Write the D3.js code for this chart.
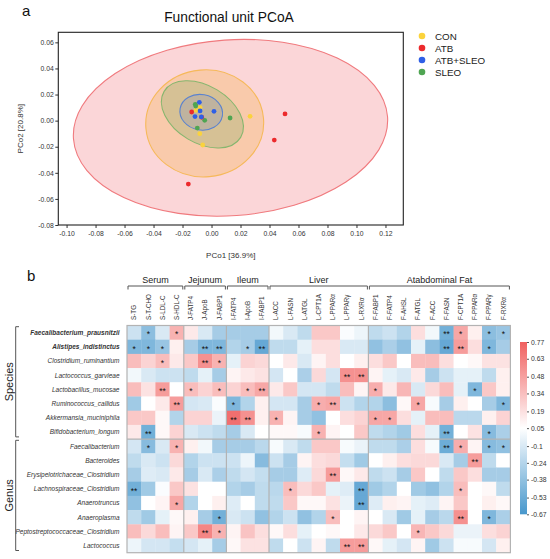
<!DOCTYPE html>
<html>
<head>
<meta charset="utf-8">
<script src="https://cdn.jsdelivr.net/npm/d3@7"></script>
<style>
body{margin:0;background:#fff;}
svg{display:block;font-family:"Liberation Sans",Arial,sans-serif;}
</style>
</head>
<body>
<svg id="chart" width="550" height="559"></svg>
<script>
// ---------- panel a: PCoA ----------
const groups = ["CON", "ATB", "ATB+SLEO", "SLEO"];
const conPC1 = [-0.0079, -0.0107, -0.0081, -0.0061, 0.0266];
const conPC2 = [0.0100, 0.0079, -0.0100, -0.0187, 0.0033];
const atbPC1 = [-0.0137, -0.0160, 0.0507, 0.0433, -0.0068];
const atbPC2 = [0.0066, -0.0486, 0.0051, -0.0149, 0.0026];
const atbSleoPC1 = [-0.0084, -0.0079, -0.0114, -0.0070, 0.0017];
const atbSleoPC2 = [0.0140, 0.0074, 0.0031, 0.0028, 0.0071];
const sleoPC1 = [-0.0112, -0.0109, -0.0047, -0.0098, 0.0128];
const sleoPC2 = [0.0125, 0.0112, 0.0002, -0.0057, 0.0020];
// confidence ellipses (group order as above)
const ellCx = [-0.0047, 0.0131, -0.0071, -0.0063];
const ellCy = [-0.0021, -0.0055, 0.0064, 0.0048];
const ellRx = [0.0407, 0.1086, 0.0148, 0.0308];
const ellRy = [0.0410, 0.0674, 0.0136, 0.0219];
const ellAngle = [-5, -4, 10, 31];
const pcoaTicksX = [-0.10, -0.08, -0.06, -0.04, -0.02, 0, 0.02, 0.04, 0.06, 0.08, 0.10, 0.12];
const pcoaTicksY = [-0.08, -0.06, -0.04, -0.02, 0, 0.02, 0.04, 0.06];

// ---------- panel b: correlation heatmap ----------
const columns = ["S-TG","S-T-CHO","S-LDL-C","S-HDL-C","J-FATP4","J-ApoB","J-FABP1",
  "I-FATP4","I-ApoB","I-FABP1","L-ACC","L-FASN","L-ATGL","L-CPT1A","L-PPARα","L-PPARγ","L-RXRα",
  "F-FABP1","F-FATP4","F-AHSL","F-ATGL","F-ACC","F-FASN","F-CPT1A","F-PPARα","F-PPARγ","F-RXRα"];
const colGroups = ["Serum", "Jejunum", "Ileum", "Liver", "Atabdominal Fat"];
const colGroupSizes = [4, 3, 3, 7, 10];
const rowNames = ["Faecalibacterium_prausnitzii","Alistipes_indistinctus","Clostridium_ruminantium",
  "Lactococcus_garvieae","Lactobacillus_mucosae","Ruminococcus_callidus","Akkermansia_muciniphila",
  "Bifidobacterium_longum","Faecalibacterium","Bacteroides","Erysipelotrichaceae_Clostridium",
  "Lachnospiraceae_Clostridium","Anaerotruncus","Anaeroplasma","Peptostreptococcaceae_Clostridium","Lactococcus"];
const boldRows = ["Faecalibacterium_prausnitzii", "Alistipes_indistinctus"];
const rowGroups = ["Species", "Genus"];
const rowGroupSizes = [8, 8];
const values = [
  [-0.15,-0.40,-0.10,0.40, 0.15,-0.10,-0.30, -0.30,-0.30,-0.30, 0.00,-0.10,-0.20,0.30,0.30,0.03,-0.02, -0.20,-0.15,-0.25,0.20,0.00,-0.50,0.45,0.12,-0.40,-0.35],
  [-0.45,-0.45,-0.35,0.12, -0.30,-0.45,-0.45, -0.25,-0.30,-0.55, -0.20,-0.20,-0.05,0.20,0.20,-0.10,-0.10, -0.38,-0.28,-0.38,-0.05,-0.40,-0.55,0.50,0.20,-0.45,-0.30],
  [0.35,0.25,0.35,0.15, 0.30,0.55,0.40, -0.05,0.25,0.22, 0.05,0.15,-0.10,0.10,0.20,0.05,0.12, 0.20,0.30,0.05,0.35,0.35,0.20,0.05,0.08,0.18,0.18],
  [0.00,-0.10,-0.15,-0.15, -0.20,-0.05,-0.30, 0.10,0.15,0.18, -0.12,0.05,-0.28,0.22,-0.12,0.55,0.55, 0.10,-0.05,-0.10,0.15,-0.30,-0.15,-0.05,-0.05,-0.20,0.12],
  [0.35,0.18,0.50,0.05, 0.35,0.25,0.35, 0.25,0.35,0.45, 0.15,0.30,-0.12,-0.12,-0.20,0.35,0.10, 0.42,0.15,0.38,-0.10,0.22,0.35,-0.05,-0.45,0.30,0.12],
  [-0.32,0.05,0.15,0.50, -0.12,-0.10,0.03, -0.45,-0.25,0.12, -0.12,-0.12,-0.30,0.42,0.45,-0.15,-0.25, -0.25,-0.40,0.08,0.45,0.02,-0.30,0.12,0.05,-0.30,-0.45],
  [0.30,0.30,0.08,-0.25, 0.25,0.25,-0.03, 0.70,0.55,0.12, 0.40,0.10,-0.30,-0.38,0.05,0.20,0.25, 0.45,0.45,0.20,-0.05,0.35,0.35,-0.22,-0.22,0.12,0.25],
  [0.15,-0.50,0.08,0.25, -0.10,-0.15,-0.20, -0.30,-0.10,0.05, 0.08,0.08,0.02,0.40,0.10,0.05,0.30, -0.20,-0.25,-0.32,0.20,-0.05,-0.50,0.05,0.18,-0.42,-0.28],
  [-0.12,-0.42,-0.10,0.40, 0.12,0.00,-0.30, -0.30,-0.30,-0.22, 0.02,-0.10,-0.20,0.30,0.30,0.02,-0.03, -0.20,-0.20,-0.28,0.20,0.02,-0.52,0.42,0.10,-0.42,-0.38],
  [-0.20,-0.10,-0.15,0.22, -0.25,-0.15,-0.15, -0.15,-0.02,-0.42, -0.15,-0.30,0.10,0.20,0.22,-0.18,-0.32, 0.05,0.12,0.20,0.22,0.22,-0.10,-0.30,0.50,-0.20,0.05],
  [-0.30,-0.08,-0.10,0.15, -0.30,-0.10,-0.28, -0.20,-0.12,-0.18, -0.30,-0.30,-0.08,0.22,0.50,0.08,0.15, -0.20,-0.15,-0.30,0.30,0.05,-0.20,0.30,0.20,-0.30,-0.30],
  [-0.50,-0.32,0.03,0.30, 0.18,0.05,0.05, -0.25,-0.30,-0.20, -0.22,0.35,0.22,0.30,-0.05,-0.08,-0.55, -0.32,-0.25,0.05,-0.32,-0.38,-0.25,0.35,0.05,0.08,-0.20],
  [-0.38,0.05,0.10,0.45, -0.25,0.05,0.12, -0.08,0.05,-0.20, -0.20,0.30,0.08,0.08,0.18,-0.03,-0.55, -0.08,0.12,0.10,-0.05,-0.08,0.10,0.30,0.05,0.12,0.08],
  [-0.20,-0.32,-0.05,0.08, 0.12,-0.30,-0.50, -0.10,-0.15,-0.38, -0.25,-0.15,-0.38,-0.25,0.35,0.05,0.10, 0.05,-0.10,-0.32,-0.05,-0.30,-0.22,0.55,0.05,-0.45,-0.28],
  [0.35,0.22,0.35,0.10, 0.30,0.60,0.40, 0.10,0.32,0.20, 0.08,0.20,-0.05,0.05,0.08,0.05,0.15, 0.22,0.30,0.05,0.38,0.30,0.22,-0.03,-0.03,0.20,0.25],
  [-0.02,-0.12,-0.12,-0.18, -0.12,-0.05,-0.30, 0.08,0.18,0.18, -0.20,0.05,-0.15,0.10,-0.20,0.50,0.50, 0.08,-0.05,-0.12,0.10,-0.32,-0.15,0.02,0.02,-0.12,0.12]
];
// significance: 0 none, 1 "*", 2 "**" (grouped by tissue)
const marks = [
  "0101 000 000 0000000 0000021011",
  "1110 022 012 0000000 0000022010",
  "0010 021 000 0000000 0000000000",
  "0000 000 000 0000022 0000000000",
  "0020 101 012 0000000 1000000100",
  "0002 000 100 0001200 0001000001",
  "0000 000 220 1000000 1100000000",
  "0200 000 000 0001000 0000020010",
  "0101 000 000 0000000 0000021011",
  "0000 000 000 0000000 0000000200",
  "0000 000 000 0000200 0000000000",
  "2000 000 000 0100002 0000001000",
  "0001 000 000 0000002 0000000000",
  "0000 001 000 0000100 0000002010",
  "0000 021 000 0000000 0001000000",
  "0000 000 000 0000022 0000000000"
];
const colorTicks = [0.77, 0.63, 0.48, 0.34, 0.19, 0.05, -0.1, -0.24, -0.38, -0.53, -0.67];

const svg = d3.select("#chart");

// ================= PCoA =================
const ptX = [conPC1, atbPC1, atbSleoPC1, sleoPC1];
const ptY = [conPC2, atbPC2, atbSleoPC2, sleoPC2];
const dotColor = ["#fbd33c", "#ec2a2c", "#2f5fe6", "#4fa552"];
const ellStroke = ["#f6b95a", "#f07a7e", "#5a82cf", "#86b66e"];
const ellFill = ["#f5a623", "#f26b73", "#6d84c4", "#5aa34a"];
const ellOpacity = [0.25, 0.28, 0.22, 0.22];

const px = d3.scaleLinear().domain([-0.1057, 0.1323]).range([58.3, 403.3]);
const py = d3.scaleLinear().domain([-0.08, 0.0677]).range([225, 32.3]);

const gA = svg.append("g");

gA.append("text").attr("x", 22).attr("y", 15.5)
  .attr("font-size", 15).attr("fill", "#111").text("a");
gA.append("text").attr("x", 229).attr("y", 21.5).attr("text-anchor", "middle")
  .attr("font-size", 13.8).attr("fill", "#111").text("Functional unit PCoA");

[1, 0, 3, 2].forEach(i => {
  const cx = px(ellCx[i]), cy = py(ellCy[i]);
  gA.append("ellipse")
    .attr("cx", cx).attr("cy", cy)
    .attr("rx", px(ellCx[i] + ellRx[i]) - cx)
    .attr("ry", cy - py(ellCy[i] + ellRy[i]))
    .attr("transform", `rotate(${ellAngle[i]},${cx},${cy})`)
    .attr("fill", ellFill[i]).attr("fill-opacity", ellOpacity[i])
    .attr("stroke", ellStroke[i]).attr("stroke-width", 1.1);
});

[0, 3, 1, 2].forEach(i => {
  gA.append("g").selectAll("circle")
    .data(ptX[i].map((v, k) => [v, ptY[i][k]]))
    .enter().append("circle")
      .attr("cx", d => px(d[0]))
      .attr("cy", d => py(d[1]))
      .attr("r", 2.4)
      .attr("fill", dotColor[i]);
});

const fmt2 = d => d.toFixed(2);
const xAxis = gA.append("g").attr("transform", "translate(0,225)")
  .call(d3.axisBottom(px).tickValues(pcoaTicksX).tickFormat(fmt2).tickSize(3).tickPadding(3.5));
const yAxis = gA.append("g").attr("transform", "translate(58.3,0)")
  .call(d3.axisLeft(py).tickValues(pcoaTicksY).tickFormat(fmt2).tickSize(3).tickPadding(1.5));
[xAxis, yAxis].forEach(a => {
  a.select(".domain").remove();
  a.selectAll("text").attr("font-size", 6.8).attr("fill", "#333")
    .attr("font-family", "Liberation Sans, Arial, sans-serif");
  a.selectAll("line").attr("stroke", "#333");
});

gA.append("rect").attr("x", 58.3).attr("y", 32.3)
  .attr("width", 345).attr("height", 192.7)
  .attr("fill", "none").attr("stroke", "#222").attr("stroke-width", 1.1);

gA.append("text").attr("x", 230.8).attr("y", 258).attr("text-anchor", "middle")
  .attr("font-size", 8).attr("fill", "#333").text("PCo1 [36.9%]");
gA.append("text").attr("transform", "translate(22.5,128.7) rotate(-90)")
  .attr("text-anchor", "middle").attr("font-size", 8).attr("fill", "#333").text("PCo2 [20.8%]");

const legY = d3.scalePoint().domain(groups).range([36, 72]);
const leg = gA.append("g").selectAll("g").data(groups).enter().append("g")
  .attr("transform", d => `translate(422,${legY(d)})`);
leg.append("circle").attr("r", 3.3).attr("fill", (d, i) => dotColor[i]);
leg.append("text").attr("x", 13).attr("y", 3.5)
  .attr("font-size", 9.8).attr("fill", "#222").text(d => d);

// ================= heatmap =================
const gB = svg.append("g");
gB.append("text").attr("x", 27).attr("y", 280.5)
  .attr("font-size", 15).attr("fill", "#111").text("b");

const hx = d3.scaleBand().domain(columns).range([127, 510.4]);
const hy = d3.scaleBand().domain(rowNames).range([325.5, 552.7]);
const color = d3.scaleLinear().domain([-0.67, 0.05, 0.77])
  .range(["#4797cc", "#ffffff", "#f0605f"]);

const cells = [];
rowNames.forEach((r, i) => {
  const m = marks[i].replace(/ /g, "");
  columns.forEach((c, j) => cells.push({ r, c, v: values[i][j], s: +m[j] }));
});

gB.append("g").selectAll("rect").data(cells).enter().append("rect")
  .attr("x", d => hx(d.c)).attr("y", d => hy(d.r))
  .attr("width", hx.bandwidth() + 0.3).attr("height", hy.bandwidth() + 0.3)
  .attr("fill", d => color(d.v));

gB.append("g").selectAll("text").data(cells.filter(d => d.s > 0)).enter().append("text")
  .attr("x", d => hx(d.c) + hx.bandwidth() / 2)
  .attr("y", d => hy(d.r) + hy.bandwidth() / 2 + 4.7)
  .attr("text-anchor", "middle").attr("font-size", 8.5).attr("fill", "#111")
  .text(d => d.s === 2 ? "**" : "*");

// group separators and border
const gridCol = "#b3b3b3";
let acc = 0;
colGroupSizes.slice(0, -1).forEach(n => {
  acc += n;
  const xx = hx(columns[acc]);
  gB.append("line").attr("x1", xx).attr("x2", xx).attr("y1", 325.5).attr("y2", 552.7)
    .attr("stroke", gridCol).attr("stroke-width", 1.2);
});
const ySep = hy(rowNames[rowGroupSizes[0]]);
gB.append("line").attr("x1", 127).attr("x2", 510.4).attr("y1", ySep).attr("y2", ySep)
  .attr("stroke", gridCol).attr("stroke-width", 1.2);
gB.append("rect").attr("x", 127).attr("y", 325.5).attr("width", 383.4).attr("height", 227.2)
  .attr("fill", "none").attr("stroke", gridCol).attr("stroke-width", 1.2);

// column labels (read bottom to top, starting just above the cells)
gB.append("g").selectAll("text").data(columns).enter().append("text")
  .attr("transform", d => `translate(${hx(d) + hx.bandwidth() / 2 + 2.2},320) rotate(-90)`)
  .attr("text-anchor", "start").attr("font-size", 6.3).attr("fill", "#333").text(d => d);

// column group brackets
acc = 0;
colGroups.forEach((g, k) => {
  const x0 = hx(columns[acc]) + 1;
  const x1 = hx(columns[acc + colGroupSizes[k] - 1]) + hx.bandwidth() - 1;
  acc += colGroupSizes[k];
  gB.append("path").attr("d", `M${x0},289.5V286H${x1}V289.5`)
    .attr("fill", "none").attr("stroke", "#555").attr("stroke-width", 1);
  gB.append("text").attr("x", (x0 + x1) / 2).attr("y", 283)
    .attr("text-anchor", "middle").attr("font-size", 9).attr("fill", "#222").text(g);
});

// row labels
gB.append("g").selectAll("text").data(rowNames).enter().append("text")
  .attr("x", 119.5).attr("y", d => hy(d) + hy.bandwidth() / 2 + 2.3)
  .attr("text-anchor", "end").attr("font-size", 6.5).attr("font-style", "italic")
  .attr("font-weight", d => boldRows.includes(d) ? "bold" : "normal")
  .attr("fill", "#333").text(d => d);

// row group brackets
acc = 0;
rowGroups.forEach((g, k) => {
  const y0 = hy(rowNames[acc]) + 1.2;
  const y1 = hy(rowNames[acc + rowGroupSizes[k] - 1]) + hy.bandwidth() - 2.2;
  acc += rowGroupSizes[k];
  gB.append("path").attr("d", `M19,${y0}H15.7V${y1}H19`)
    .attr("fill", "none").attr("stroke", "#555").attr("stroke-width", 1);
  gB.append("text").attr("transform", `translate(12.5,${(y0 + y1) / 2}) rotate(-90)`)
    .attr("text-anchor", "middle").attr("font-size", 11).attr("fill", "#222").text(g);
});

// colour bar
const cb = d3.scaleLinear().domain([-0.67, 0.77]).range([514.3, 342]);
const grad = svg.append("defs").append("linearGradient").attr("id", "cbar")
  .attr("x1", 0).attr("x2", 0).attr("y1", 1).attr("y2", 0);
d3.range(0, 1.0001, 0.1).forEach(t => {
  const v = -0.67 + t * 1.44;
  grad.append("stop").attr("offset", t).attr("stop-color", color(v));
});
gB.append("rect").attr("x", 520).attr("y", 342).attr("width", 7).attr("height", 172.3)
  .attr("fill", "url(#cbar)");
const cbAxis = gB.append("g").attr("transform", "translate(527,0)")
  .call(d3.axisRight(cb).tickValues(colorTicks).tickFormat(d => String(d)).tickSize(2).tickPadding(2));
cbAxis.select(".domain").remove();
cbAxis.selectAll("text").attr("font-size", 6.8).attr("fill", "#333")
  .attr("font-family", "Liberation Sans, Arial, sans-serif");
cbAxis.selectAll("line").attr("stroke", "#555");
</script>
</body>
</html>
